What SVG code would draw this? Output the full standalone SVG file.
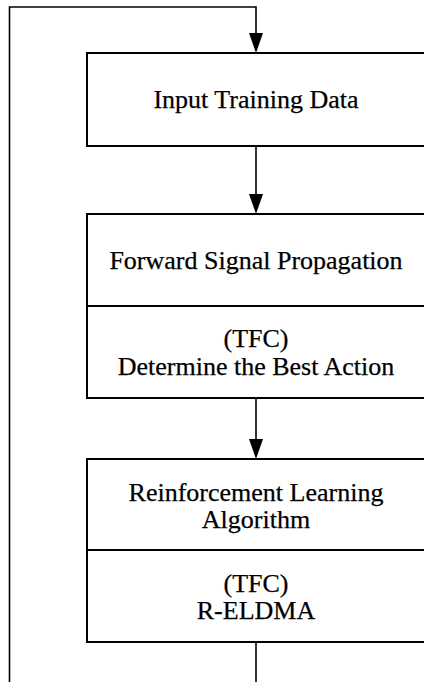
<svg xmlns="http://www.w3.org/2000/svg" width="424" height="682" viewBox="0 0 424 682">
<style>
.box{fill:#fff;stroke:#000;stroke-width:2}
.div{stroke:#000;stroke-width:2}
.ln{fill:none;stroke:#000;stroke-width:1.6}
.ah{fill:#000}
text{font-family:"Liberation Serif","Times New Roman",serif;font-size:26px;fill:#000;stroke:#000;stroke-width:0.25;text-anchor:middle}
</style>
<g id="connectors">
<path class="ln" d="M256,642 V682"/>
<path class="ln" d="M9.5,682 V7 H256 V33"/>
<polygon class="ah" points="249,33 263,33 256,53"/>
<path class="ln" d="M256,146 V194"/>
<polygon class="ah" points="249,194 263,194 256,214"/>
<path class="ln" d="M256,398 V439"/>
<polygon class="ah" points="249,439 263,439 256,459"/>
</g>
<g id="node-input">
<rect class="box" x="87" y="53" width="360" height="93"/>
<text x="256" y="108">Input Training Data</text>
</g>
<g id="node-forward">
<rect class="box" x="87" y="214" width="360" height="184"/>
<line class="div" x1="87" y1="306" x2="447" y2="306"/>
<text x="256" y="269">Forward Signal Propagation</text>
<text x="256" y="347">(TFC)</text>
<text x="256" y="375">Determine the Best Action</text>
</g>
<g id="node-rl">
<rect class="box" x="87" y="459" width="360" height="183"/>
<line class="div" x1="87" y1="550" x2="447" y2="550"/>
<text x="256" y="501">Reinforcement Learning</text>
<text x="256" y="528">Algorithm</text>
<text x="256" y="592">(TFC)</text>
<text x="256" y="619">R-ELDMA</text>
</g>
</svg>
